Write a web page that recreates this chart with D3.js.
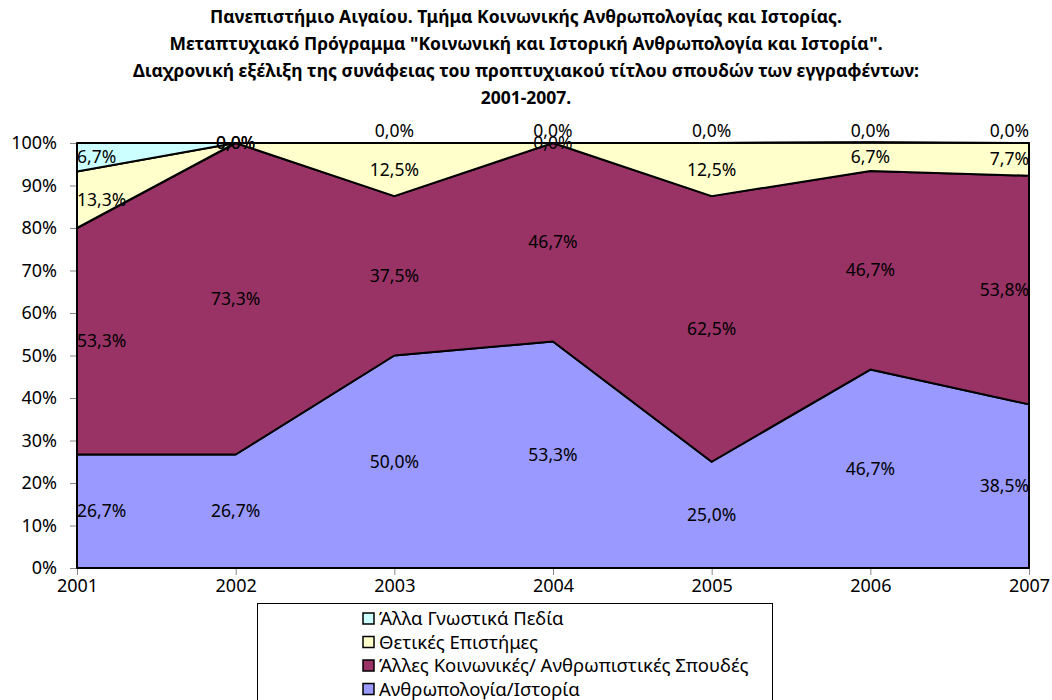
<!DOCTYPE html>
<html>
<head>
<meta charset="utf-8">
<script src="https://cdn.jsdelivr.net/npm/d3@7"></script>
<style>
  body { margin: 0; background: #fff; }
  text { font-family: "Noto Sans", sans-serif; fill: #000; }
</style>
</head>
<body>
<div class="canvas"></div>
<script>
// Data
const years = ['2001', '2002', '2003', '2004', '2005', '2006', '2007'];
const seriesNames = ['Ανθρωπολογία/Ιστορία', 'Άλλες Κοινωνικές/ Ανθρωπιστικές Σπουδές', 'Θετικές Επιστήμες', 'Άλλα Γνωστικά Πεδία'];
const anthropology = [26.7, 26.7, 50.0, 53.3, 25.0, 46.7, 38.5];
const otherSocial = [53.3, 73.3, 37.5, 46.7, 62.5, 46.7, 53.8];
const sciences = [13.3, 0.0, 12.5, 0.0, 12.5, 6.7, 7.7];
const otherFields = [6.7, 0.0, 0.0, 0.0, 0.0, 0.0, 0.0];
const colors = ['#9999ff', '#993366', '#ffffcc', '#ccffff'];
const yTicks = [0, 10, 20, 30, 40, 50, 60, 70, 80, 90, 100];
const titleLines = [
    'Πανεπιστήμιο Αιγαίου. Τμήμα Κοινωνικής Ανθρωπολογίας και Ιστορίας.',
    'Μεταπτυχιακό Πρόγραμμα "Κοινωνική και Ιστορική Ανθρωπολογία και Ιστορία".',
    'Διαχρονική εξέλιξη της συνάφειας του προπτυχιακού τίτλου σπουδών των εγγραφέντων:',
    '2001-2007.'
];

const width = 1052;
const height = 700;
const margin = {top: 143, right: 23, bottom: 132, left: 77};
const graphWidth = width - margin.left - margin.right;
const graphHeight = height - margin.top - margin.bottom;

const svg = d3.select('.canvas')
    .append('svg')
    .attr('width', width)
    .attr('height', height);

// Title
svg.append('g')
    .selectAll('text')
    .data(titleLines)
    .enter()
    .append('text')
    .attr('x', 526)
    .attr('y', (d, i) => 23 + i * 27)
    .attr('text-anchor', 'middle')
    .style('font-size', '17.5px')
    .style('font-weight', 'bold')
    .text(d => d);

const graph = svg.append('g')
    .attr('transform', `translate(${margin.left}, ${margin.top})`);

const x = d3.scalePoint().domain(years).range([0, graphWidth]);
const y = d3.scaleLinear().domain([0, 100]).range([graphHeight, 0]);

// Stack the series
const table = years.map((yr, i) => ({
    year: yr,
    s0: anthropology[i],
    s1: otherSocial[i],
    s2: sciences[i],
    s3: otherFields[i]
}));
const keys = ['s0', 's1', 's2', 's3'];
const stacked = d3.stack().keys(keys)(table);

const area = d3.area()
    .x(d => x(d.data.year))
    .y0(d => y(d[0]))
    .y1(d => y(d[1]));

// Axes (under the areas)
const yAxis = d3.axisLeft(y)
    .tickValues(yTicks)
    .tickSize(7)
    .tickFormat(d => d + '%');
const yAxisGroup = graph.append('g').call(yAxis);
yAxisGroup.select('.domain').attr('stroke', '#868686');
yAxisGroup.selectAll('.tick line').attr('stroke', '#868686');
yAxisGroup.selectAll('.tick text')
    .attr('x', -20)
    .style('font-size', '18px')
    .style('font-family', '"Noto Sans", sans-serif');

const xAxis = d3.axisBottom(x).tickSize(7);
const xAxisGroup = graph.append('g')
    .attr('transform', `translate(0, ${graphHeight})`)
    .call(xAxis);
xAxisGroup.select('.domain').attr('stroke', '#868686');
xAxisGroup.selectAll('.tick line').attr('stroke', '#868686');
xAxisGroup.selectAll('.tick text')
    .attr('y', 11)
    .style('font-size', '18px')
    .style('font-family', '"Noto Sans", sans-serif');

// Areas
graph.selectAll('path.area')
    .data(stacked)
    .enter()
    .append('path')
    .attr('class', 'area')
    .attr('fill', (d, i) => colors[i])
    .attr('stroke', '#000')
    .attr('stroke-width', 2)
    .attr('stroke-linejoin', 'round')
    .attr('d', area);

// Data labels
const fmt = d3.formatLocale({decimal: ',', thousands: '.', grouping: [3], currency: ['', '€']}).format('.1f');
const labelGroup = graph.append('g');
stacked.forEach((s, si) => {
    s.forEach((d, i) => {
        const v = d[1] - d[0];
        let ly = y((d[0] + d[1]) / 2);
        // zero values of the top series sit above the plot
        if (si === keys.length - 1 && v === 0 && i !== 1) ly = y(100) - 12;
        let anchor = 'middle';
        if (i === 0) anchor = 'start';
        if (i === years.length - 1) anchor = 'end';
        labelGroup.append('text')
            .attr('x', x(d.data.year))
            .attr('y', ly)
            .attr('dy', '0.35em')
            .attr('text-anchor', anchor)
            .style('font-size', '17.5px')
            .text(fmt(v) + '%');
    });
});

// Legend
const legend = svg.append('g');
legend.append('rect')
    .attr('x', 257.5)
    .attr('y', 603.5)
    .attr('width', 515)
    .attr('height', 100)
    .attr('fill', '#fff')
    .attr('stroke', '#000')
    .attr('stroke-width', 1);

const legendOrder = [3, 2, 1, 0];
const items = legend.selectAll('g.item')
    .data(legendOrder)
    .enter()
    .append('g')
    .attr('class', 'item')
    .attr('transform', (d, i) => `translate(363, ${619 + i * 23.5})`);

items.append('rect')
    .attr('x', 0)
    .attr('y', -6)
    .attr('width', 11)
    .attr('height', 11)
    .attr('fill', d => colors[d])
    .attr('stroke', '#000')
    .attr('stroke-width', 1.5);

items.append('text')
    .attr('x', 16)
    .attr('y', 0)
    .attr('dy', '0.35em')
    .style('font-size', '18.5px')
    .text(d => seriesNames[d]);
</script>
</body>
</html>
